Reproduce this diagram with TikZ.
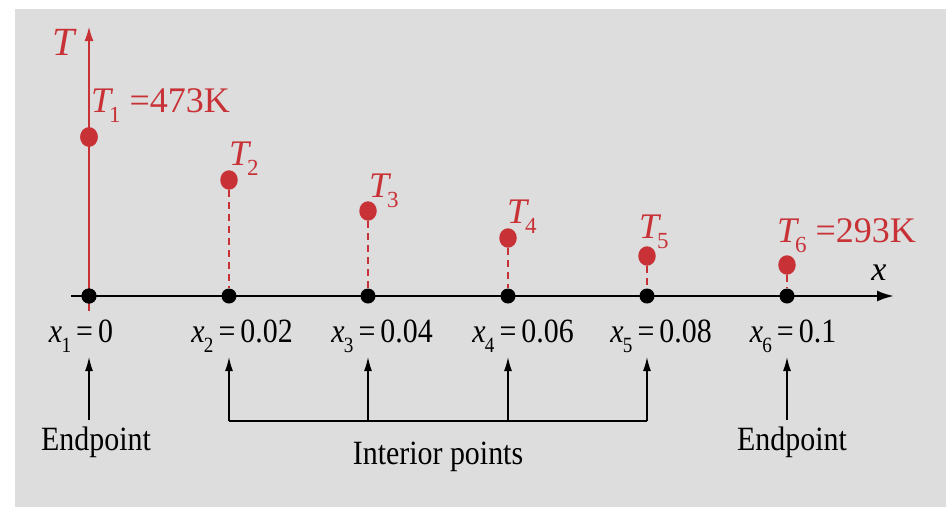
\documentclass[tikz,border=0pt]{standalone}
\usepackage{fontspec}
\setmainfont{Liberation Serif}
\usetikzlibrary{arrows.meta,shapes.geometric}
\definecolor{bg}{RGB}{221,221,221}
\definecolor{tred}{RGB}{200,50,55}
\newcommand\Tsub[1]{\textit{T}\kern-0.12em\raisebox{-0.3em}{\scalebox{0.64}{#1}}}
\newcommand\xsub[1]{\textit{x}\kern-0.02em\raisebox{-0.3em}{\scalebox{0.64}{#1}}}
\newcommand\cond[1]{\scalebox{0.88}[1]{#1}}
\begin{document}
\begin{tikzpicture}[x=1pt,y=-1pt,
  bdot/.style={circle,fill=black,inner sep=0pt,minimum size=15pt},
  rdot/.style={ellipse,fill=tred,inner sep=0pt,minimum width=17.5pt,minimum height=19.5pt},
  axisline/.style={line width=2.4pt,-{Latex[length=17pt,width=11pt]}},
  taxis/.style={tred,line width=2.4pt,-{Latex[length=15pt,width=9pt]}},
  stem/.style={tred,line width=2pt,dash pattern=on 7pt off 5pt},
  xlab/.style={font=\fontsize{34}{38}\selectfont,inner sep=0pt,anchor=base},
  rlab/.style={font=\fontsize{36}{40}\selectfont,text=tred,inner sep=0pt,anchor=base west},
  blab/.style={font=\fontsize{34}{38}\selectfont,inner sep=0pt,anchor=base},
  uparrow/.style={line width=1.4pt,-{Latex[length=14pt,width=8pt]}},
  bracket/.style={line width=1.4pt}
]
\useasboundingbox (0,0) rectangle (946,507);
\fill[bg] (15,9) rectangle (946,507);

% axes
\coordinate (xs) at (71,296);
\coordinate (xe) at (894,296);
\draw[axisline] (xs) -- (xe);
\coordinate (tb) at (89,311);
\coordinate (tt) at (89,26);
\draw[taxis] (tb) -- (tt);
\node[font=\fontsize{40}{44}\selectfont\itshape,text=tred,inner sep=0pt,anchor=base] (tlab) at (64,55) {T};
\node[font=\fontsize{34}{38}\selectfont\itshape,inner sep=0pt,anchor=base] (xlab) at (879,280) {x};

% grid points
\foreach \i/\x in {1/89,2/229,3/368,4/508,5/647,6/787}{
  \node[bdot] (p\i) at (\x,296) {};
}
% temperature points
\foreach \i/\x/\y in {1/89/137,2/229/180,3/368/211,4/508/238,5/647/256,6/787/265}{
  \node[rdot] (r\i) at (\x,\y) {};
}
\foreach \i in {2,...,6}{
  \draw[stem] (r\i) -- (p\i);
}
\node[bdot] at (p1) {};
\node[rdot] at (r1) {};

% T labels
\node[rlab] (t1) at (91,112) {\Tsub{1} =473K};
\node[rlab] (t2) at (229,165) {\Tsub{2}};
\node[rlab] (t3) at (369,197) {\Tsub{3}};
\node[rlab] (t4) at (507,223) {\Tsub{4}};
\node[rlab] (t5) at (639,238) {\Tsub{5}};
\node[rlab] (t6) at (777,242) {\Tsub{6} =293K};

% x labels
\node[xlab] (l1) at (81,342) {\cond{\xsub{1}\,=\,0}};
\node[xlab] (l2) at (242,342) {\cond{\xsub{2}\,=\,0.02}};
\node[xlab] (l3) at (382,342) {\cond{\xsub{3}\,=\,0.04}};
\node[xlab] (l4) at (523,342) {\cond{\xsub{4}\,=\,0.06}};
\node[xlab] (l5) at (661,342) {\cond{\xsub{5}\,=\,0.08}};
\node[xlab] (l6) at (793,342) {\cond{\xsub{6}\,=\,0.1}};

% bottom annotations
\node[blab] (e1) at (96,450) {\cond{Endpoint}};
\node[blab] (e6) at (792,450) {\cond{Endpoint}};
\node[blab] (ip) at (438,464) {\cond{Interior points}};

\coordinate (a1b) at (89,420); \coordinate (a1t) at (89,357);
\coordinate (a6b) at (787,420); \coordinate (a6t) at (787,357);
\draw[uparrow] (a1b) -- (a1t);
\draw[uparrow] (a6b) -- (a6t);
\foreach \i/\x in {2/229,3/368,4/508,5/647}{
  \coordinate (b\i) at (\x,421);
  \coordinate (u\i) at (\x,357);
  \draw[uparrow] (b\i) -- (u\i);
}
\draw[bracket] (b2) -- (b5);
\end{tikzpicture}
\end{document}
